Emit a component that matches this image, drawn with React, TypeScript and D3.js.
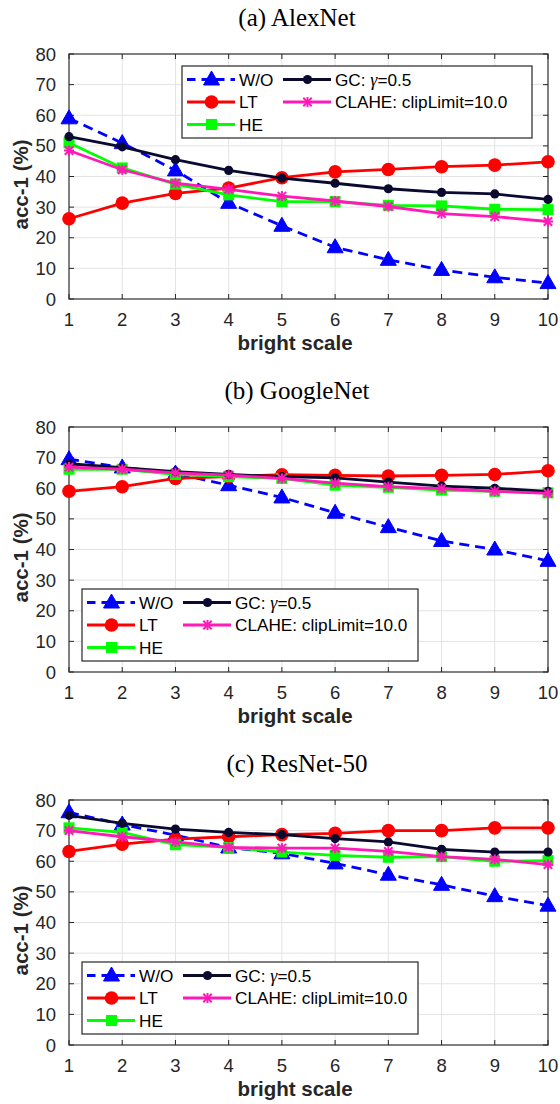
import React from 'react';
import * as d3 from 'd3';

// x axis values and y ticks
const brightScale = [1, 2, 3, 4, 5, 6, 7, 8, 9, 10];
const yTicks = [0, 10, 20, 30, 40, 50, 60, 70, 80];

// (a) AlexNet
const alexWO = [59, 50.9, 42, 31.4, 23.9, 16.9, 12.8, 9.5, 7.1, 5.2];
const alexLT = [26.2, 31.3, 34.5, 36.2, 39.6, 41.5, 42.3, 43.2, 43.7, 44.8];
const alexHE = [51, 42.8, 37.5, 34, 31.8, 31.8, 30.6, 30.4, 29.3, 29.2];
const alexGC = [53, 49.7, 45.5, 42, 39.5, 37.8, 36, 34.8, 34.3, 32.5];
const alexCLAHE = [48.5, 42.2, 37.8, 35.8, 33.6, 32, 30.2, 27.9, 26.9, 25.3];

// (b) GoogleNet
const googWO = [69.5, 66.8, 64.8, 61, 57, 52, 47.3, 42.8, 40, 36.3];
const googLT = [59, 60.5, 63.2, 63.8, 64.4, 64.2, 64, 64.2, 64.5, 65.7];
const googHE = [66.2, 66.2, 64.5, 63.8, 63.2, 61, 60.3, 59.4, 59, 58.5];
const googGC = [68, 66.7, 65.4, 64.5, 63.8, 63.4, 62, 60.7, 60, 59];
const googCLAHE = [66.9, 66.2, 65, 64.3, 63.2, 61.7, 60.5, 59.9, 59, 58.3];

// (c) ResNet-50
const resWO = [76, 72, 68.5, 64.5, 62.6, 59.3, 55.6, 52.3, 48.6, 45.5];
const resLT = [63.2, 65.6, 67.2, 68, 68.7, 69.1, 70, 70, 70.9, 70.9];
const resHE = [70.9, 69.4, 65.4, 64.5, 63, 61.9, 61.3, 61.5, 60, 60.2];
const resGC = [75, 72.4, 70.5, 69.4, 68.7, 67.4, 66.3, 63.9, 63, 63];
const resCLAHE = [70, 68, 66.3, 64.5, 64.3, 64.3, 63.2, 61.5, 60.6, 58.9];

const seriesStyle = [
  { key: 'wo', name: 'W/O', color: '#0000ff', marker: 'triangle', dash: '10,6' },
  { key: 'lt', name: 'LT', color: '#ff0000', marker: 'circle' },
  { key: 'he', name: 'HE', color: '#00ff00', marker: 'square' },
  { key: 'gc', name: 'GC', color: '#0a0a30', marker: 'dot' },
  { key: 'clahe', name: 'CLAHE: clipLimit=10.0', color: '#ff1ab8', marker: 'star' },
];

const panels = [
  { title: '(a)  AlexNet', legendTop: true, data: { wo: alexWO, lt: alexLT, he: alexHE, gc: alexGC, clahe: alexCLAHE } },
  { title: '(b)  GoogleNet', legendTop: false, data: { wo: googWO, lt: googLT, he: googHE, gc: googGC, clahe: googCLAHE } },
  { title: '(c)  ResNet-50', legendTop: false, data: { wo: resWO, lt: resLT, he: resHE, gc: resGC, clahe: resCLAHE } },
];

const W = 560;
const H = 1104;
const step = 373;
const plotL = 69, plotR = 548;
const axisColor = '#262626';
const sans = '"Liberation Sans", Arial, Helvetica, sans-serif';
const serif = '"Liberation Serif", "Times New Roman", serif';

const Marker = ({ type, color, x, y }: { type: string; color: string; x: number; y: number }) => {
  if (type === 'triangle') {
    return <path d={`M${x},${y - 8.5}L${x + 8},${y + 5.5}L${x - 8},${y + 5.5}Z`} fill={color} stroke={color} strokeWidth={1} />;
  }
  if (type === 'circle') return <circle cx={x} cy={y} r={6.8} fill={color} />;
  if (type === 'dot') return <circle cx={x} cy={y} r={4.6} fill={color} />;
  if (type === 'square') return <rect x={x - 5.5} y={y - 5.5} width={11} height={11} fill={color} />;
  const s = 4.2;
  return (
    <g stroke={color} strokeWidth={2}>
      <line x1={x - s} y1={y - s} x2={x + s} y2={y + s} />
      <line x1={x - s} y1={y + s} x2={x + s} y2={y - s} />
      <line x1={x - s * 1.2} y1={y} x2={x + s * 1.2} y2={y} />
      <line x1={x} y1={y - s * 1.2} x2={x} y2={y + s * 1.2} />
    </g>
  );
};

const Panel = ({ panel, offset }: { panel: any; offset: number }) => {
  const top = 54 + offset;
  const bottom = 299 + offset;
  const x = d3.scaleLinear().domain([1, 10]).range([plotL, plotR]);
  const y = d3.scaleLinear().domain([0, 80]).range([bottom, top]);
  const line = d3.line<number>().x((_, i) => x(brightScale[i])).y(d => y(d));

  const legW = panel.legendTop ? 350 : 336;
  const legX = panel.legendTop ? 182 : 82;
  const legY = panel.legendTop ? top + 12 : bottom - 83;
  const legH = 72;
  const rows = [13.5, 36, 58.5];
  const legendItems = [
    { s: seriesStyle[0], col: 0, row: 0 },
    { s: seriesStyle[1], col: 0, row: 1 },
    { s: seriesStyle[2], col: 0, row: 2 },
    { s: seriesStyle[3], col: 1, row: 0 },
    { s: seriesStyle[4], col: 1, row: 1 },
  ];

  return (
    <g>
      <text x={297} y={26 + offset} textAnchor="middle" fontFamily={serif} fontSize={25} fill="#000">{panel.title}</text>
      <rect x={plotL} y={top} width={plotR - plotL} height={bottom - top} fill="#fff" />
      {/* grid */}
      {brightScale.map(v => (
        <line key={'gx' + v} x1={x(v)} x2={x(v)} y1={top} y2={bottom} stroke="#e3e3e3" strokeWidth={1} />
      ))}
      {yTicks.map(v => (
        <line key={'gy' + v} x1={plotL} x2={plotR} y1={y(v)} y2={y(v)} stroke="#e3e3e3" strokeWidth={1} />
      ))}
      {/* ticks inside on all sides */}
      {brightScale.map(v => (
        <g key={'tx' + v} stroke={axisColor} strokeWidth={1}>
          <line x1={x(v)} x2={x(v)} y1={bottom} y2={bottom - 5} />
          <line x1={x(v)} x2={x(v)} y1={top} y2={top + 5} />
        </g>
      ))}
      {yTicks.map(v => (
        <g key={'ty' + v} stroke={axisColor} strokeWidth={1}>
          <line x1={plotL} x2={plotL + 5} y1={y(v)} y2={y(v)} />
          <line x1={plotR} x2={plotR - 5} y1={y(v)} y2={y(v)} />
        </g>
      ))}
      <rect x={plotL} y={top} width={plotR - plotL} height={bottom - top} fill="none" stroke={axisColor} strokeWidth={1.3} opacity={0.85} />
      {/* tick labels */}
      {brightScale.map(v => (
        <text key={'lx' + v} x={x(v)} y={bottom + 27} textAnchor="middle" fontFamily={sans} fontSize={18.5} fill={axisColor}>{v}</text>
      ))}
      {yTicks.map(v => (
        <text key={'ly' + v} x={56} y={y(v) + 6.5} textAnchor="end" fontFamily={sans} fontSize={18.5} fill={axisColor}>{v}</text>
      ))}
      <text x={295} y={bottom + 51} textAnchor="middle" fontFamily={sans} fontSize={20.5} fontWeight="bold" fill={axisColor}>bright scale</text>
      <text transform={`translate(28, ${(top + bottom) / 2 + 8}) rotate(-90)`} textAnchor="middle" fontFamily={sans} fontSize={20.5} fontWeight="bold" fill={axisColor}>acc-1 (%)</text>
      {/* series */}
      {seriesStyle.map(s => {
        const vals: number[] = panel.data[s.key];
        return (
          <g key={s.key}>
            <path d={line(vals) || ''} fill="none" stroke={s.color} strokeWidth={2.8} strokeDasharray={s.dash} />
            {vals.map((v, i) => (
              <Marker key={i} type={s.marker} color={s.color} x={x(brightScale[i])} y={y(v)} />
            ))}
          </g>
        );
      })}
      {/* legend */}
      <rect x={legX} y={legY} width={legW} height={legH} fill="#fff" stroke={axisColor} strokeWidth={1.2} />
      {legendItems.map(({ s, col, row }) => {
        const x0 = legX + (col === 0 ? 5 : 101);
        const ly = legY + rows[row];
        return (
          <g key={s.key}>
            <line x1={x0} x2={x0 + 48} y1={ly} y2={ly} stroke={s.color} strokeWidth={2.8} strokeDasharray={s.dash ? '8.5,6' : undefined} />
            <Marker type={s.marker} color={s.color} x={x0 + 24.5} y={ly} />
            <text x={x0 + 52} y={ly + 6.2} fontFamily={sans} fontSize={17.2} fill="#000">
              {s.key === 'gc' ? (
                <>
                  {'GC: '}
                  <tspan fontFamily={serif} fontStyle="italic" fontSize={18}>γ</tspan>
                  {'=0.5'}
                </>
              ) : s.name}
            </text>
          </g>
        );
      })}
    </g>
  );
};

export default function App() {
  return (
    <svg width={W} height={H} viewBox={`0 0 ${W} ${H}`} style={{ position: 'absolute', left: 0, top: 0, background: '#fff' }}>
      <rect width={W} height={H} fill="#fff" />
      {panels.map((p, i) => (
        <Panel key={i} panel={p} offset={i * step} />
      ))}
    </svg>
  );
}
